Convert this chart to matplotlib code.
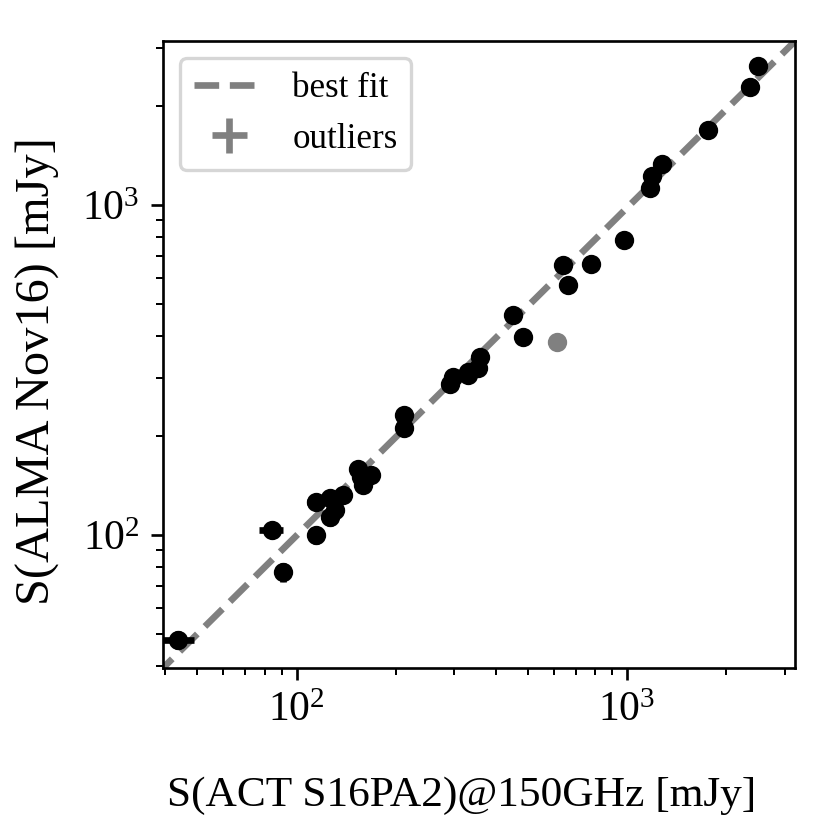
import numpy as np
import matplotlib
matplotlib.use('Agg')
import matplotlib.pyplot as plt

plt.rcParams['font.family'] = ['Liberation Serif', 'DejaVu Serif']
plt.rcParams['mathtext.fontset'] = 'stix'
plt.rcParams['font.size'] = 10

# ACT fluxes vs ALMA fluxes, mJy
act_flux = [43.8, 84, 91, 114.7, 114.7, 125.9, 130.4, 125.9, 138, 153.4, 157, 158.8, 168.4,
            211.9, 211.9, 291, 297.7, 330, 330, 354, 359, 453, 485, 641, 664, 776, 979,
            1170, 1194, 1274, 1762, 2349, 2489]
alma_flux = [48.1, 103.5, 77, 100, 126, 113.6, 119, 129.5, 132, 159, 150, 141.8, 152,
             231, 211, 287, 302, 312.6, 305, 320, 347, 464, 399, 658, 573, 662, 783,
             1128, 1227, 1328, 1688, 2284, 2642]
act_err = [5, 7, 5, 4, 7.5, 5, 5, 5, 5, 5, 5, 5, 5,
           6, 6, 8, 8, 8, 8, 9, 9, 12, 12, 15, 15, 18, 20,
           25, 25, 25, 35, 45, 50]
alma_err = [3, 5, 5, 6, 6, 7, 7, 6, 6, 7, 7, 8, 7,
            10, 10, 12, 12, 12, 12, 13, 13, 18, 16, 25, 25, 25, 30,
            45, 45, 50, 60, 80, 90]

out_act = [615]
out_alma = [385]
out_act_err = [12]
out_alma_err = [15]

fit_amp = 1.03
fit_slope = 0.993

xlims = [39.3, 3228]
ylims = [39.5, 3150]


def plot_fluxes():
    fig = plt.figure(figsize=(830 / 240, 830 / 240), dpi=240)
    ax = fig.add_axes([0.196, 0.195, 0.762, 0.756])

    xx = np.logspace(np.log10(xlims[0]) - 0.1, np.log10(xlims[1]) + 0.1, 50)
    ax.plot(xx, fit_amp * xx ** fit_slope, '--', color='gray', lw=2, label='best fit', zorder=1)

    ax.errorbar(act_flux, alma_flux, xerr=act_err, yerr=alma_err, fmt='o', color='k',
                ms=4.8, elinewidth=2, capsize=0, zorder=3)
    ax.errorbar(out_act, out_alma, xerr=out_act_err, yerr=out_alma_err, fmt='none',
                ecolor='gray', elinewidth=2, capsize=0, label='outliers', zorder=2)
    ax.plot(out_act, out_alma, 'o', color='gray', ms=4.8, zorder=2)

    ax.set_xscale('log')
    ax.set_yscale('log')
    ax.set_xlim(xlims)
    ax.set_ylim(ylims)
    ax.tick_params(labelsize=12.5)
    ax.set_xlabel('S(ACT S16PA2)@150GHz [mJy]', fontsize=13)
    ax.set_ylabel('S(ALMA Nov16) [mJy]', fontsize=14.5)
    ax.xaxis.set_label_coords(0.473, -0.172)
    ax.yaxis.set_label_coords(-0.162, 0.473)
    ax.legend(loc='upper left', fontsize=10.5)

    fig.savefig('out.png', dpi=240)
    return 'Done'


plot_fluxes()
